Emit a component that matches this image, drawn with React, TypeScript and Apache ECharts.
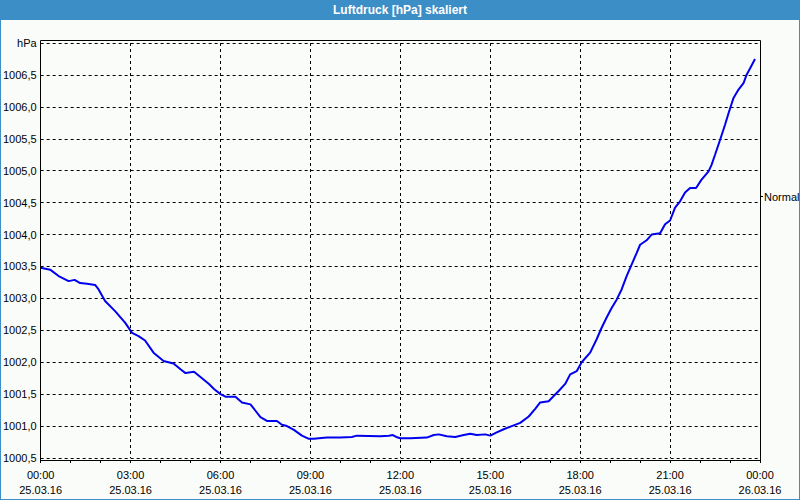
import React, { useEffect, useRef } from "react";
import * as echarts from "echarts";

// minutes since 25.03.16 00:00
const times = [
  0, 19, 36, 56, 68, 79, 93, 109, 116, 129, 149, 169, 183, 196, 209, 226, 246, 266, 280, 290,
  307, 323, 337, 347, 360, 370, 390, 403, 420, 430, 440, 453, 473, 483, 493, 507, 523, 537, 547, 557,
  573, 600, 623, 633, 680, 697, 705, 712, 720, 740, 773, 787, 797, 813, 830, 847, 860, 873, 890, 900,
  913, 927, 943, 960, 977, 990, 1000, 1017, 1027, 1037, 1050, 1060, 1073, 1083, 1100, 1113, 1123, 1133, 1143, 1153,
  1163, 1173, 1183, 1193, 1200, 1213, 1223, 1240, 1250, 1260, 1270, 1280, 1290, 1300, 1312, 1323, 1337, 1343, 1350, 1360,
  1370, 1377, 1387, 1397, 1407, 1413, 1420, 1430,
];
const pressure = [
  1003.48, 1003.45, 1003.35, 1003.27, 1003.29, 1003.24, 1003.23, 1003.21, 1003.14, 1002.96, 1002.8, 1002.62, 1002.46, 1002.41, 1002.34, 1002.15, 1002.02, 1001.98, 1001.89, 1001.83,
  1001.85, 1001.75, 1001.66, 1001.58, 1001.5, 1001.46, 1001.46, 1001.37, 1001.34, 1001.24, 1001.14, 1001.08, 1001.08, 1001.02, 1001.0, 1000.94, 1000.85, 1000.8, 1000.8, 1000.81,
  1000.82, 1000.82, 1000.83, 1000.85, 1000.84, 1000.85, 1000.86, 1000.83, 1000.81, 1000.81, 1000.82, 1000.86, 1000.87, 1000.84, 1000.83, 1000.86, 1000.88, 1000.86, 1000.87, 1000.85,
  1000.9, 1000.95, 1001.0, 1001.05, 1001.15, 1001.27, 1001.37, 1001.39, 1001.47, 1001.55, 1001.66, 1001.81, 1001.86, 1002.0, 1002.15, 1002.36, 1002.54, 1002.7, 1002.85, 1002.98,
  1003.14, 1003.35, 1003.53, 1003.71, 1003.84, 1003.91, 1004.0, 1004.02, 1004.16, 1004.22, 1004.42, 1004.52, 1004.66, 1004.73, 1004.73, 1004.86, 1004.99, 1005.09, 1005.25, 1005.48,
  1005.72, 1005.9, 1006.14, 1006.27, 1006.37, 1006.5, 1006.6, 1006.75,
];

const timeLabels = ["00:00", "03:00", "06:00", "09:00", "12:00", "15:00", "18:00", "21:00", "00:00"];
const dateLabels = ["25.03.16", "25.03.16", "25.03.16", "25.03.16", "25.03.16", "25.03.16", "25.03.16", "25.03.16", "26.03.16"];
const yMin = 1000.5;
const yMax = 1007;
const yStep = 0.5;
const normalValue = 1004.6;
const titleText = "Luftdruck [hPa] skaliert";

const W = 800;
const H = 500;
const GL = 40, GR = 40, GT = 43, GB = 42;
const FONT = "'Liberation Sans', Arial, sans-serif";
const BLUE = "#3c8ec6";

export default function App() {
  const ref = useRef<HTMLDivElement>(null);
  useEffect(() => {
    document.body.style.margin = "0";
    const chart = echarts.init(ref.current!, null, { renderer: "svg", width: W, height: H });
    const baseGraphic: any[] = [
      { type: "rect", shape: { x: 0, y: 0, width: W, height: 20 }, style: { fill: BLUE }, z: 10 },
      {
        type: "text", x: W / 2, y: 10, z: 11,
        style: { text: titleText, fill: "#ffffff", font: `bold 12px ${FONT}`, align: "center", verticalAlign: "middle" },
      },
      { type: "rect", shape: { x: 0, y: 0, width: 1, height: H }, style: { fill: BLUE }, z: 10 },
      { type: "rect", shape: { x: W - 1, y: 0, width: 1, height: H }, style: { fill: BLUE }, z: 10 },
      { type: "rect", shape: { x: 0, y: H - 1, width: W, height: 1 }, style: { fill: BLUE }, z: 10 },
      {
        type: "rect", z: 5, silent: true,
        shape: { x: GL + 0.5, y: 40.5, width: W - GL - GR, height: H - GB + 2 - 40 },
        style: { fill: "none", stroke: "#000", lineWidth: 1 },
      },
    ];
    const option: any = {
      animation: false,
      backgroundColor: "#fafcfa",
      grid: { left: GL, right: GR, top: GT, bottom: GB },
      xAxis: {
        type: "value", min: 0, max: 1440, interval: 180, offset: 2,
        axisLine: { show: true, lineStyle: { color: "#000", width: 1 } },
        axisTick: { show: true, length: 3, lineStyle: { color: "#000" } },
        minorTick: { show: true, splitNumber: 3, length: 3, lineStyle: { color: "#000" } },
        axisLabel: {
          color: "#000", fontSize: 11, fontFamily: FONT, margin: 7, lineHeight: 15,
          formatter: (v: number) => {
            const i = Math.round(v / 180);
            return `${timeLabels[i]}\n${dateLabels[i]}`;
          },
        },
        splitLine: { show: true, lineStyle: { color: "#000", type: [3, 3], width: 1 } },
      },
      yAxis: {
        type: "value", min: yMin, max: yMax, interval: yStep,
        axisLine: { show: true, lineStyle: { color: "#000", width: 1 } },
        axisTick: { show: false },
        axisLabel: {
          color: "#000", fontSize: 11, fontFamily: FONT, margin: 4,
          formatter: (v: number) => (Math.abs(v - yMax) < 1e-6 ? "hPa" : v.toFixed(1).replace(".", ",")),
        },
        splitLine: { show: true, lineStyle: { color: "#000", type: [3, 3], width: 1 } },
      },
      series: [
        {
          type: "line",
          data: times.map((t, i) => [t, pressure[i]]),
          showSymbol: false,
          lineStyle: { color: "#0000ee", width: 2 },
          z: 3,
        },
      ],
      graphic: baseGraphic,
    };
    chart.setOption(option);
    const ny = chart.convertToPixel({ yAxisIndex: 0 }, normalValue) as number;
    const rx = W - GR;
    chart.setOption({
      graphic: [
        ...baseGraphic,
        { type: "line", z: 6, shape: { x1: rx, y1: Math.round(ny) + 0.5, x2: rx + 3, y2: Math.round(ny) + 0.5 }, style: { stroke: "#000", lineWidth: 1 } },
        {
          type: "text", z: 6, x: rx + 4, y: Math.round(ny) + 1,
          style: { text: "Normal", fill: "#000", font: `11px ${FONT}`, align: "left", verticalAlign: "middle" },
        },
      ],
    });
    return () => chart.dispose();
  }, []);
  return <div ref={ref} style={{ width: W, height: H }} />;
}
